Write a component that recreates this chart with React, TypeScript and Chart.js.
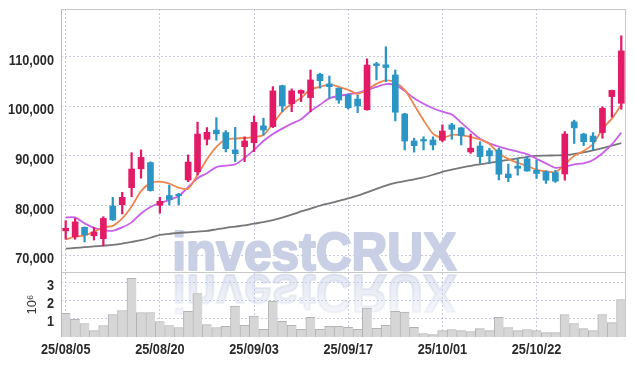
import React, { useEffect, useRef } from 'react';
import { Chart, registerables } from 'chart.js';

Chart.register(...registerables);

// ---------- data ----------
const dates = [
  '25/08/05', '25/08/06', '25/08/07', '25/08/08', '25/08/11', '25/08/12', '25/08/13', '25/08/14', '25/08/18', '25/08/19',
  '25/08/20', '25/08/21', '25/08/22', '25/08/25', '25/08/26', '25/08/27', '25/08/28', '25/08/29', '25/09/01', '25/09/02',
  '25/09/03', '25/09/04', '25/09/05', '25/09/08', '25/09/09', '25/09/10', '25/09/11', '25/09/12', '25/09/15', '25/09/16',
  '25/09/17', '25/09/18', '25/09/19', '25/09/22', '25/09/23', '25/09/24', '25/09/25', '25/09/26', '25/09/29', '25/09/30',
  '25/10/01', '25/10/02', '25/10/10', '25/10/13', '25/10/14', '25/10/15', '25/10/16', '25/10/17', '25/10/20', '25/10/21',
  '25/10/22', '25/10/23', '25/10/24', '25/10/27', '25/10/28', '25/10/29', '25/10/30', '25/10/31', '25/11/03', '25/11/04',
];

const xTickLabels = ['25/08/05', '25/08/20', '25/09/03', '25/09/17', '25/10/01', '25/10/22'];
const priceTicks = [70000, 80000, 90000, 100000, 110000];
const volumeTicks = [1, 2, 3]; // in millions

const opens = [
  74900, 73700, 75600, 73900, 73300, 79900, 80150, 83600, 87400, 88650,
  80050, 82000, 82200, 85150, 86800, 93350, 95200, 94700, 91200, 91850,
  92650, 96050, 95900, 104150, 100500, 102600, 101750, 106450, 104500, 103650,
  102300, 101450, 99300, 108550, 108350, 106300, 98450, 93000, 93300, 93200,
  93150, 96250, 95650, 90800, 92000, 91050, 91200, 86350, 87950, 89400,
  87100, 86800, 86650, 86350, 96850, 94400, 94000, 94700, 101950, 100600,
];
const highs = [
  76950, 77400, 75700, 75600, 77750, 81650, 82650, 90650, 91200, 88800,
  81650, 84100, 82450, 90200, 96800, 95700, 97700, 95100, 95750, 93850,
  98050, 97600, 103950, 104250, 103500, 103300, 107300, 106650, 106100, 103700,
  102500, 102250, 109550, 108850, 112000, 107300, 98600, 93550, 93850, 93850,
  96250, 96550, 95700, 94400, 92850, 91550, 91550, 88350, 89500, 89850,
  89150, 87000, 87100, 94900, 97200, 94550, 94700, 99900, 103250, 114200,
];
const lows = [
  73200, 73200, 72650, 73050, 71850, 77000, 78300, 81800, 85500, 82900,
  78450, 80100, 80100, 84800, 86150, 92200, 93150, 90800, 88850, 88850,
  90850, 94200, 95700, 98900, 98900, 100950, 98900, 103650, 101600, 100600,
  99450, 98700, 99200, 105300, 104950, 97050, 91200, 90750, 91200, 91200,
  92850, 93350, 92200, 90500, 88500, 88500, 85150, 84800, 86100, 86900,
  85450, 84450, 84650, 85100, 92500, 92050, 91200, 93550, 97800, 99400,
];
const closes = [
  75400, 76700, 74100, 74650, 77400, 77100, 81650, 87350, 89700, 83000,
  80850, 81200, 81950, 88750, 94400, 94750, 94450, 91450, 90450, 93000,
  96750, 95200, 103100, 100050, 103100, 103200, 105300, 105150, 103950, 101250,
  99700, 100050, 108300, 108200, 107800, 98800, 93000, 92050, 93000, 92200,
  95000, 95350, 94100, 91550, 89850, 90000, 86300, 85600, 87500, 86950,
  86450, 85100, 84900, 94400, 95650, 92850, 92850, 99600, 103200, 111150,
];

// moving-average lines
const maShort = [
  73200, 73700, 74000, 74700, 75600, 75900, 77400, 79800, 82900, 84500,
  84800, 84400, 83600, 83400, 86200, 89300, 91800, 93300, 93500, 93600,
  93800, 94200, 96500, 98900, 100500, 101700, 103400, 103900, 104400, 103900,
  103300, 102500, 103350, 104500, 105200, 104800, 103300, 100300, 97200, 94500,
  93600, 94250, 94200, 93850, 93300, 92400, 90500, 89400, 88600, 88000,
  87200, 86900, 86700, 88300, 90000, 91000, 92400, 95400, 97500, 100300,
];
const maMid = [
  77600, 77600, 76400, 75500, 75100, 74900, 75600, 76600, 78400, 79700,
  80500, 81100, 81900, 83700, 85500, 86500, 87750, 88050, 88300, 89600,
  91200, 93000, 94400, 95500, 96500, 97400, 99000, 100300, 101600, 102100,
  102400, 102700, 103250, 103900, 104450, 104300, 103100, 101600, 100500, 99600,
  98900, 98350, 96700, 95000, 93450, 92540, 91860, 91330, 90850, 90350,
  89400, 88500, 87600, 87830, 88300, 88500, 89170, 90520, 92300, 94680,
];
const maLong = [
  71300, 71450, 71600, 71750, 71900, 72050, 72300, 72650, 73000, 73500,
  74100, 74300, 74500, 74600, 74750, 74900, 75200, 75500, 75750, 76000,
  76350, 76650, 77050, 77550, 78150, 78800, 79350, 79950, 80450, 80950,
  81450, 82000, 82650, 83350, 84000, 84550, 84900, 85250, 85650, 86200,
  86800, 87250, 87650, 88000, 88300, 88600, 88900, 89200, 89500, 89800,
  90000, 90050, 90100, 90150, 90400, 90700, 91100, 91550, 92050, 92550,
];

const volumes = [
  1290000, 960000, 740000, 350000, 630000, 1230000, 1450000, 3210000, 1340000, 1340000,
  850000, 630000, 520000, 1400000, 2380000, 680000, 520000, 590000, 1690000, 640000,
  1140000, 420000, 1960000, 860000, 640000, 420000, 1080000, 420000, 590000, 590000,
  530000, 420000, 1580000, 480000, 640000, 1410000, 1360000, 530000, 190000, 130000,
  350000, 410000, 350000, 300000, 460000, 350000, 1070000, 520000, 350000, 410000,
  350000, 240000, 240000, 1230000, 740000, 460000, 350000, 1230000, 790000, 2050000,
];

// ---------- styles ----------
const UP = '#e31b67';
const DOWN = '#2b95c6';
const ORANGE = '#ef8650';
const PURPLE = '#c95fea';
const GRAY = '#777777';
const GRID = '#c9cadf';
const LABEL_COLOR = '#2a2a2a';
const LABEL_FONT = 'bold 15.5px "Liberation Sans", Arial, sans-serif';
const LABEL_SX = 0.82;

const watermarkPlugin = {
  id: 'watermark',
  beforeDatasetsDraw(chart: any) {
    const { ctx } = chart;
    const text = 'investCRUX';
    ctx.save();
    ctx.font = 'bold 53px "Liberation Sans", Arial, sans-serif';
    ctx.textBaseline = 'alphabetic';
    ctx.textAlign = 'left';
    ctx.lineJoin = 'round';
    const m = ctx.measureText(text);
    const inkW = m.actualBoundingBoxRight + m.actualBoundingBoxLeft;
    const targetLeft = 175;
    const targetW = 281;
    const base = 270;
    const sx = targetW / inkW;
    ctx.save();
    ctx.translate(targetLeft, base);
    ctx.scale(sx, 1);
    ctx.fillStyle = '#c9d0e6';
    ctx.strokeStyle = '#c9d0e6';
    ctx.lineWidth = 2.2;
    ctx.fillText(text, m.actualBoundingBoxLeft, 0);
    ctx.strokeText(text, m.actualBoundingBoxLeft, 0);
    ctx.restore();
    ctx.save();
    ctx.translate(targetLeft, base + 5);
    ctx.scale(sx, -1);
    const g = ctx.createLinearGradient(0, 0, 0, -42);
    g.addColorStop(0, 'rgba(201,208,230,0.5)');
    g.addColorStop(1, 'rgba(201,208,230,0.15)');
    ctx.fillStyle = g;
    ctx.strokeStyle = g;
    ctx.lineWidth = 2.2;
    ctx.fillText(text, m.actualBoundingBoxLeft, 0);
    ctx.strokeText(text, m.actualBoundingBoxLeft, 0);
    ctx.restore();
    ctx.restore();
  },
};

const framePlugin = {
  id: 'frame',
  afterDatasetsDraw(chart: any) {
    const { ctx, chartArea: a, scales } = chart;
    const sep = Math.round(scales.y.bottom) + 0.5;
    ctx.save();
    ctx.lineWidth = 1;
    ctx.strokeStyle = '#c8c8c8';
    ctx.beginPath();
    ctx.moveTo(a.left, a.top + 0.5);
    ctx.lineTo(a.right, a.top + 0.5);
    ctx.moveTo(a.right - 0.5, a.top);
    ctx.lineTo(a.right - 0.5, a.bottom);
    ctx.moveTo(a.left, sep);
    ctx.lineTo(a.right, sep);
    ctx.stroke();
    ctx.strokeStyle = '#b9b9b9';
    ctx.beginPath();
    ctx.moveTo(a.left + 0.5, a.top);
    ctx.lineTo(a.left + 0.5, a.bottom);
    ctx.stroke();
    ctx.restore();
  },
};

// Tick labels drawn at the library's tick positions, in a condensed rendering
const narrowLabelsPlugin = {
  id: 'narrowLabels',
  afterDraw(chart: any) {
    const { ctx, scales } = chart;
    const draw = (text: string, x: number, y: number, align: CanvasTextAlign) => {
      ctx.save();
      ctx.translate(x, y);
      ctx.scale(LABEL_SX, 1);
      ctx.textAlign = align;
      ctx.textBaseline = 'alphabetic';
      ctx.fillText(text, 0, 0);
      ctx.restore();
    };
    ctx.save();
    ctx.fillStyle = LABEL_COLOR;
    ctx.font = LABEL_FONT;
    const ys = scales.y;
    ys.ticks.forEach((t: any) => {
      draw(Number(t.value).toLocaleString('en-US'), ys.right - 7, ys.getPixelForValue(t.value) + 8, 'right');
    });
    const vs = scales.yv;
    vs.ticks.forEach((t: any) => {
      draw(String(Number(t.value) / 1e6), vs.right - 7, vs.getPixelForValue(t.value) + 7.5, 'right');
    });
    const xs = scales.x;
    xs.ticks.forEach((t: any, i: number) => {
      draw(dates[t.value], xs.getPixelForTick(i), xs.top + 17, 'center');
    });
    ctx.restore();
  },
};

export default function App() {
  const canvasRef = useRef<HTMLCanvasElement | null>(null);

  useEffect(() => {
    if (!canvasRef.current) return;
    const candleColors = opens.map((o, i) => (closes[i] >= o ? UP : DOWN));

    const chart = new Chart(canvasRef.current, {
      type: 'bar',
      data: {
        labels: dates,
        datasets: [
          {
            type: 'bar',
            label: 'body',
            data: opens.map((o, i) => [o, closes[i]]) as any,
            backgroundColor: candleColors,
            barThickness: 6,
            minBarLength: 1.5,
            grouped: false,
            yAxisID: 'y',
            order: 0,
          },
          {
            type: 'bar',
            label: 'wick',
            data: lows.map((l, i) => [l, highs[i]]) as any,
            backgroundColor: candleColors,
            barThickness: 1.6,
            grouped: false,
            yAxisID: 'y',
            order: 1,
          },
          {
            type: 'line',
            label: 'MA short',
            data: maShort,
            borderColor: ORANGE,
            borderWidth: 1.8,
            pointRadius: 0,
            tension: 0.25,
            yAxisID: 'y',
            order: 2,
          },
          {
            type: 'line',
            label: 'MA mid',
            data: maMid,
            borderColor: PURPLE,
            borderWidth: 1.8,
            pointRadius: 0,
            tension: 0.25,
            yAxisID: 'y',
            order: 3,
          },
          {
            type: 'line',
            label: 'MA long',
            data: maLong,
            borderColor: GRAY,
            borderWidth: 1.8,
            pointRadius: 0,
            tension: 0.25,
            yAxisID: 'y',
            order: 4,
          },
          {
            type: 'bar',
            label: 'Volume',
            data: volumes,
            backgroundColor: '#d6d6d6',
            borderColor: '#b3b3b3',
            borderWidth: { top: 1, left: 1, right: 0, bottom: 0 } as any,
            borderSkipped: false,
            barPercentage: 1,
            categoryPercentage: 1,
            grouped: false,
            yAxisID: 'yv',
            order: 6,
          },
        ],
      },
      options: {
        animation: false,
        responsive: true,
        maintainAspectRatio: false,
        events: [],
        layout: { padding: { left: 8, right: 8, top: 9, bottom: 0 } },
        plugins: {
          legend: { display: false },
          tooltip: { enabled: false },
        },
        scales: {
          x: {
            type: 'category',
            offset: true,
            grid: { offset: false, color: GRID, lineWidth: 1, drawTicks: false },
            border: { display: false, dash: [2, 2] },
            afterBuildTicks: (scale: any) => {
              scale.ticks = scale.ticks.filter((t: any) => xTickLabels.includes(dates[t.value]));
            },
            afterFit: (scale: any) => {
              scale.height = 29;
            },
            ticks: { display: false, autoSkip: false },
          },
          y: {
            type: 'linear',
            position: 'left',
            stack: 'panels',
            stackWeight: 263,
            weight: 2,
            min: 66600,
            max: 119600,
            grid: { color: GRID, lineWidth: 1, drawTicks: false },
            border: { display: false, dash: [2, 2] },
            afterBuildTicks: (scale: any) => {
              scale.ticks = priceTicks.map((v) => ({ value: v }));
            },
            afterFit: (scale: any) => {
              scale.width = 53;
            },
            ticks: { display: false, autoSkip: false },
          },
          yv: {
            type: 'linear',
            position: 'left',
            stack: 'panels',
            stackWeight: 65,
            weight: 1,
            min: 0,
            max: 3555000,
            grid: { color: GRID, lineWidth: 1, drawTicks: false },
            border: { display: false, dash: [2, 2] },
            afterBuildTicks: (scale: any) => {
              scale.ticks = volumeTicks.map((v) => ({ value: v * 1e6 }));
            },
            afterFit: (scale: any) => {
              scale.width = 53;
            },
            title: {
              display: true,
              text: '10⁶',
              color: '#333333',
              font: { family: '"Liberation Sans", Arial, sans-serif', size: 13 },
              padding: { top: 17, bottom: 0 },
            },
            ticks: { display: false, autoSkip: false },
          },
        },
      },
      plugins: [watermarkPlugin, framePlugin, narrowLabelsPlugin],
    } as any);

    return () => {
      chart.destroy();
    };
  }, []);

  return (
    <div style={{ position: 'fixed', left: 0, top: 0, width: 634, height: 366, background: '#ffffff' }}>
      <canvas ref={canvasRef} />
    </div>
  );
}
